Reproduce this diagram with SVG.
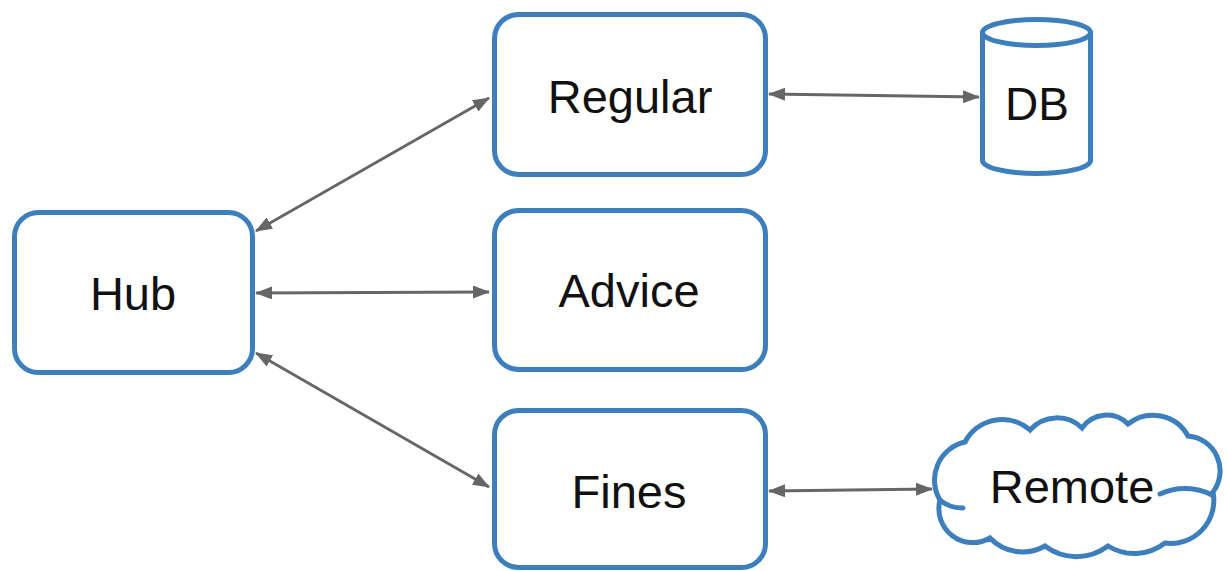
<svg xmlns="http://www.w3.org/2000/svg" width="1227" height="571" viewBox="0 0 1227 571">
  <style>
    .box { fill: #ffffff; stroke: #3d7fbd; stroke-width: 5; }
    .edge { fill: none; stroke: #3d7fbd; stroke-width: 5; stroke-linecap: round; }
    .label { font-family: "Liberation Sans", Arial, sans-serif; font-size: 47px; fill: #111111; text-anchor: middle; }
    .link { stroke: #666666; stroke-width: 2.8; fill: none; marker-start: url(#arrow); marker-end: url(#arrow); }
  </style>
  <defs>
    <marker id="arrow" markerUnits="userSpaceOnUse" markerWidth="17" markerHeight="13" refX="16" refY="6.5" orient="auto-start-reverse">
      <path d="M0,0 L17,6.5 L0,13 z" fill="#666666"/>
    </marker>
  </defs>
  <rect width="1227" height="571" fill="#ffffff"/>

  <g id="connectors">
    <line class="link" x1="256" y1="231" x2="489" y2="98"/>
    <line class="link" x1="256" y1="293" x2="489" y2="292"/>
    <line class="link" x1="256" y1="353" x2="489" y2="487"/>
    <line class="link" x1="769" y1="94" x2="979" y2="97"/>
    <line class="link" x1="769" y1="491" x2="932" y2="489"/>
  </g>

  <g id="hub">
    <rect class="box" x="14.5" y="212.5" width="238" height="160" rx="24"/>
    <text class="label" x="133" y="310">Hub</text>
  </g>

  <g id="regular">
    <rect class="box" x="494.5" y="14.5" width="271" height="160" rx="24"/>
    <text class="label" x="630" y="113">Regular</text>
  </g>

  <g id="advice">
    <rect class="box" x="494.5" y="210.5" width="271" height="159" rx="24"/>
    <text class="label" x="629" y="307">Advice</text>
  </g>

  <g id="fines">
    <rect class="box" x="494.5" y="410.5" width="271" height="157" rx="24"/>
    <text class="label" x="629" y="508">Fines</text>
  </g>

  <g id="db">
    <path class="box" d="M982.5,32.5 A54,13 0 0 1 1090.5,32.5 L1090.5,160.5 A54,13 0 0 1 982.5,160.5 Z"/>
    <path class="edge" d="M982.5,32.5 A54,13 0 0 0 1090.5,32.5"/>
    <text class="label" x="1037" y="120" style="font-size:46px">DB</text>
  </g>

  <g id="remote">
    <!-- cloud outline, lobes traced clockwise from the left side -->
    <path class="box" d="M940,500
      A39,39 0 0 1 965,442
      A42,42 0 0 1 1030,430
      A36,36 0 0 1 1082,428
      A30,30 0 0 1 1128,424
      A40,40 0 0 1 1188,436
      A35,35 0 0 1 1213,492
      A43,43 0 0 1 1165,543
      A50,50 0 0 1 1108,546
      A52,52 0 0 1 1045,546
      A45,45 0 0 1 990,538
      A34,34 0 0 1 940,500 Z"/>
    <!-- inner lobe strokes -->
    <path class="edge" d="M1160,494 A60,60 0 0 1 1212,495"/>
    <path class="edge" d="M940,500 A30,22 0 0 0 963,508"/>
    <text class="label" x="1072" y="503">Remote</text>
  </g>
</svg>
